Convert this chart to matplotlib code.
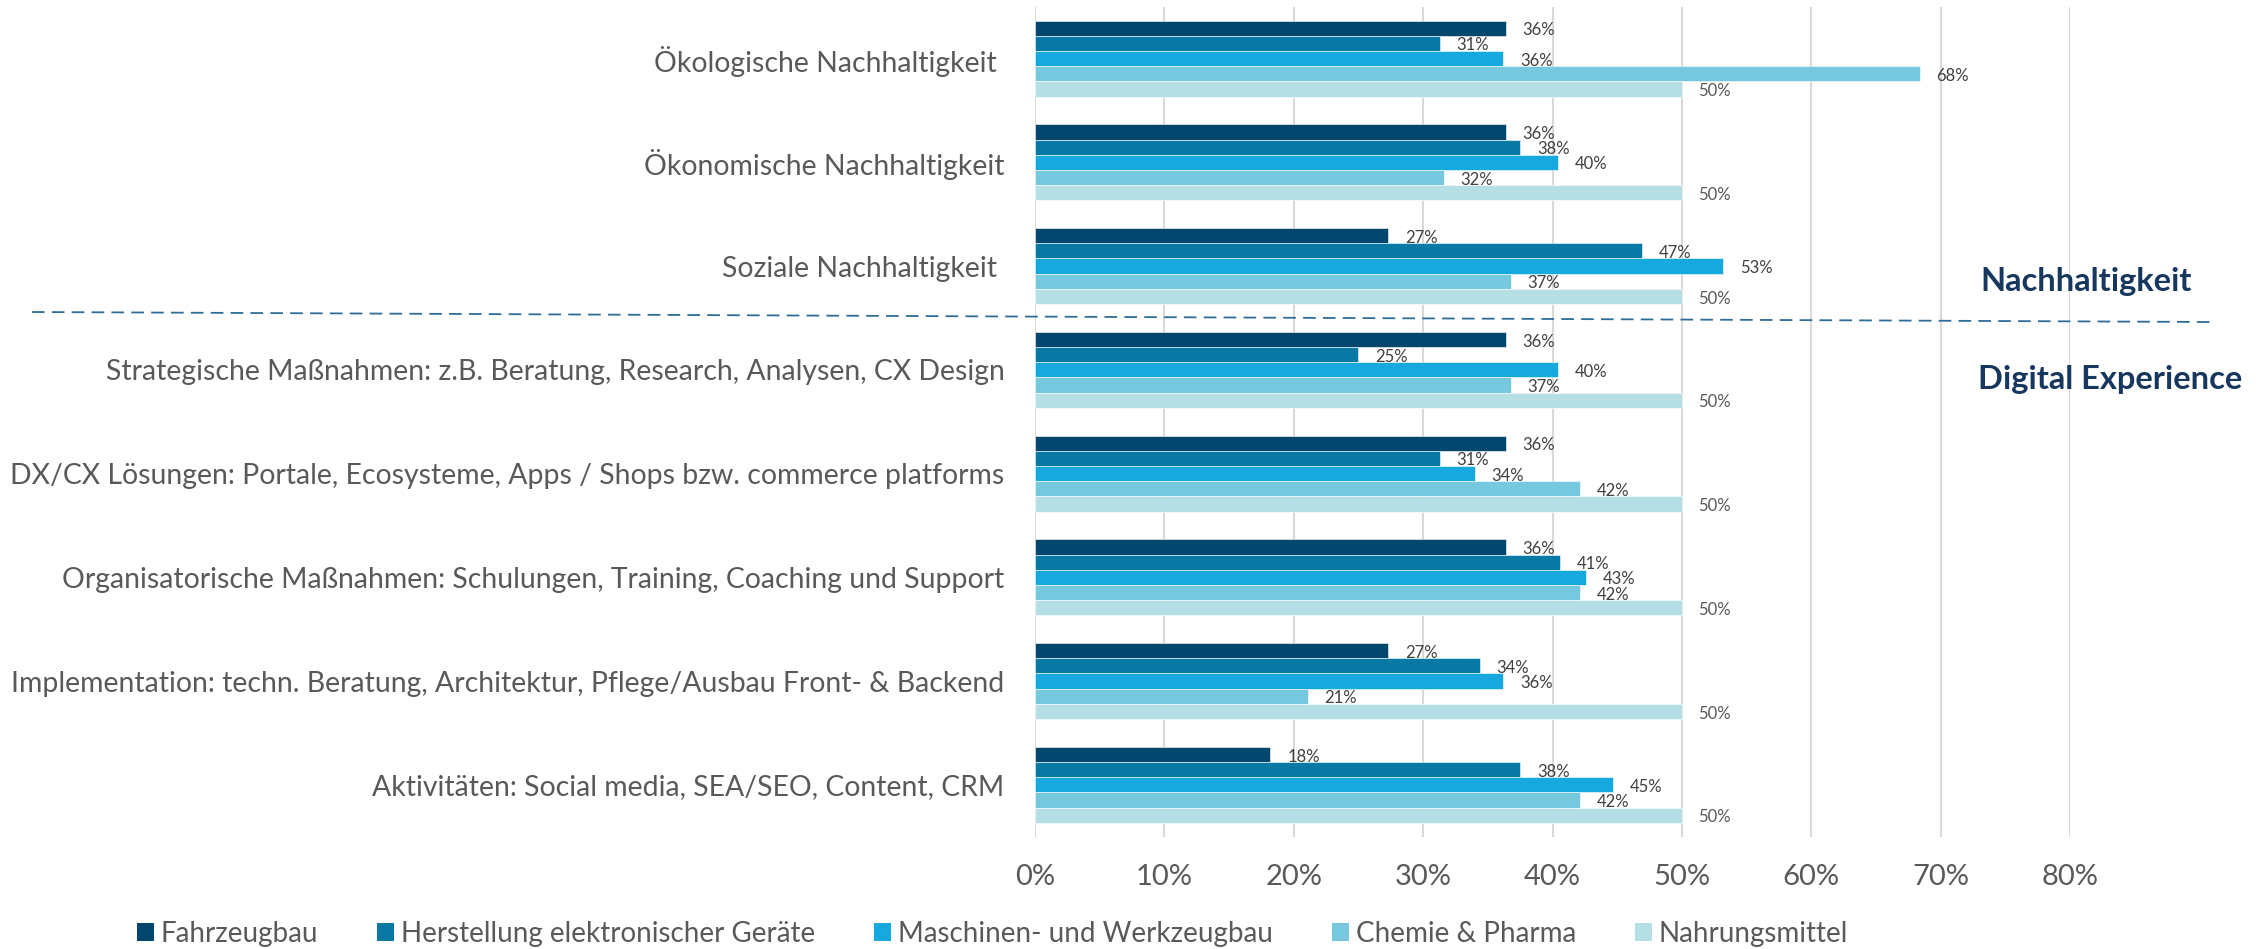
import matplotlib.pyplot as plt
import numpy as np
from matplotlib.patches import Patch
from matplotlib.lines import Line2D

plt.rcParams['font.family'] = ['Lato', 'DejaVu Sans']

categories = [
    'Ökologische Nachhaltigkeit ',
    'Ökonomische Nachhaltigkeit',
    'Soziale Nachhaltigkeit ',
    'Strategische Maßnahmen: z.B. Beratung, Research, Analysen, CX Design',
    'DX/CX Lösungen: Portale, Ecosysteme, Apps / Shops bzw. commerce platforms',
    'Organisatorische Maßnahmen: Schulungen, Training, Coaching und Support',
    'Implementation: techn. Beratung, Architektur, Pflege/Ausbau Front- & Backend',
    'Aktivitäten: Social media, SEA/SEO, Content, CRM',
]

series_names = ['Fahrzeugbau', 'Herstellung elektronischer Geräte',
                'Maschinen- und Werkzeugbau', 'Chemie & Pharma', 'Nahrungsmittel']

fahrzeugbau = [36.4, 36.4, 27.3, 36.4, 36.4, 36.4, 27.3, 18.2]
elektronik = [31.3, 37.5, 46.9, 25.0, 31.3, 40.6, 34.4, 37.5]
maschinen = [36.2, 40.4, 53.2, 40.4, 34.0, 42.6, 36.2, 44.7]
chemie = [68.4, 31.6, 36.8, 36.8, 42.1, 42.1, 21.1, 42.1]
nahrung = [50.0, 50.0, 50.0, 50.0, 50.0, 50.0, 50.0, 50.0]

xticks = [0, 10, 20, 30, 40, 50, 60, 70, 80]

colors = ['#03476F', '#0878A4', '#16A9DF', '#76C8DE', '#B5DFE5']
all_series = [fahrzeugbau, elektronik, maschinen, chemie, nahrung]

fig = plt.figure(figsize=(22.66, 9.49), dpi=100)
ax = fig.add_axes([1035 / 2266, 112.3 / 949, 1035 / 2266, 830 / 949])

pos = np.arange(len(categories))
h = 0.1465
for i, vals in enumerate(all_series):
    yy = pos + (i - 2) * h
    ax.barh(yy, vals, height=h, color=colors[i], edgecolor='white',
            linewidth=0.4, label=series_names[i], zorder=2)
    lab_col = '#595959' if i == 4 else '#404040'
    for y, v in zip(yy, vals):
        ax.annotate(f'{v:.0f}%', (v, y), xytext=(12, -1.5),
                    textcoords='offset points', va='center', ha='left',
                    fontsize=12, color=lab_col)

ax.set_xlim(0, 80)
ax.set_ylim(len(categories) - 0.5, -0.5)
ax.set_xticks(xticks)
ax.set_xticklabels([f'{t}%' for t in xticks], fontsize=21, color='#595959')
ax.set_yticks(pos)
ax.set_yticklabels(categories, fontsize=20.4, color='#595959')
ax.tick_params(length=0)
ax.tick_params(axis='x', pad=20)
ax.tick_params(axis='y', pad=22)
ax.xaxis.grid(True, color='#D9D9D9', linewidth=1.5, zorder=0)
ax.set_axisbelow(True)
for s in ax.spines.values():
    s.set_visible(False)

# dashed separator between the two blocks
fig.add_artist(Line2D([32 / 2266, 2211 / 2266], [1 - 312 / 949, 1 - 322 / 949],
                      transform=fig.transFigure, color='#2F6D99',
                      linewidth=1.3, linestyle=(0, (7, 4))))
fig.text(2086 / 2266, 1 - 282 / 949, 'Nachhaltigkeit', ha='center', va='center',
         fontsize=23.5, fontweight='bold', color='#17375E')
fig.text(2110 / 2266, 1 - 380 / 949, 'Digital Experience', ha='center',
         va='center', fontsize=23.5, fontweight='bold', color='#17375E')

handles = [Patch(facecolor=c) for c in colors]
fig.legend(handles, series_names, loc='center', bbox_to_anchor=(0.438, 0.016),
           ncol=5, frameon=False, handlelength=0.6,
           handleheight=0.6, handletextpad=0.25, columnspacing=2.13,
           labelcolor='#595959', prop={'size': 20})

fig.savefig('out.png', dpi=100)
